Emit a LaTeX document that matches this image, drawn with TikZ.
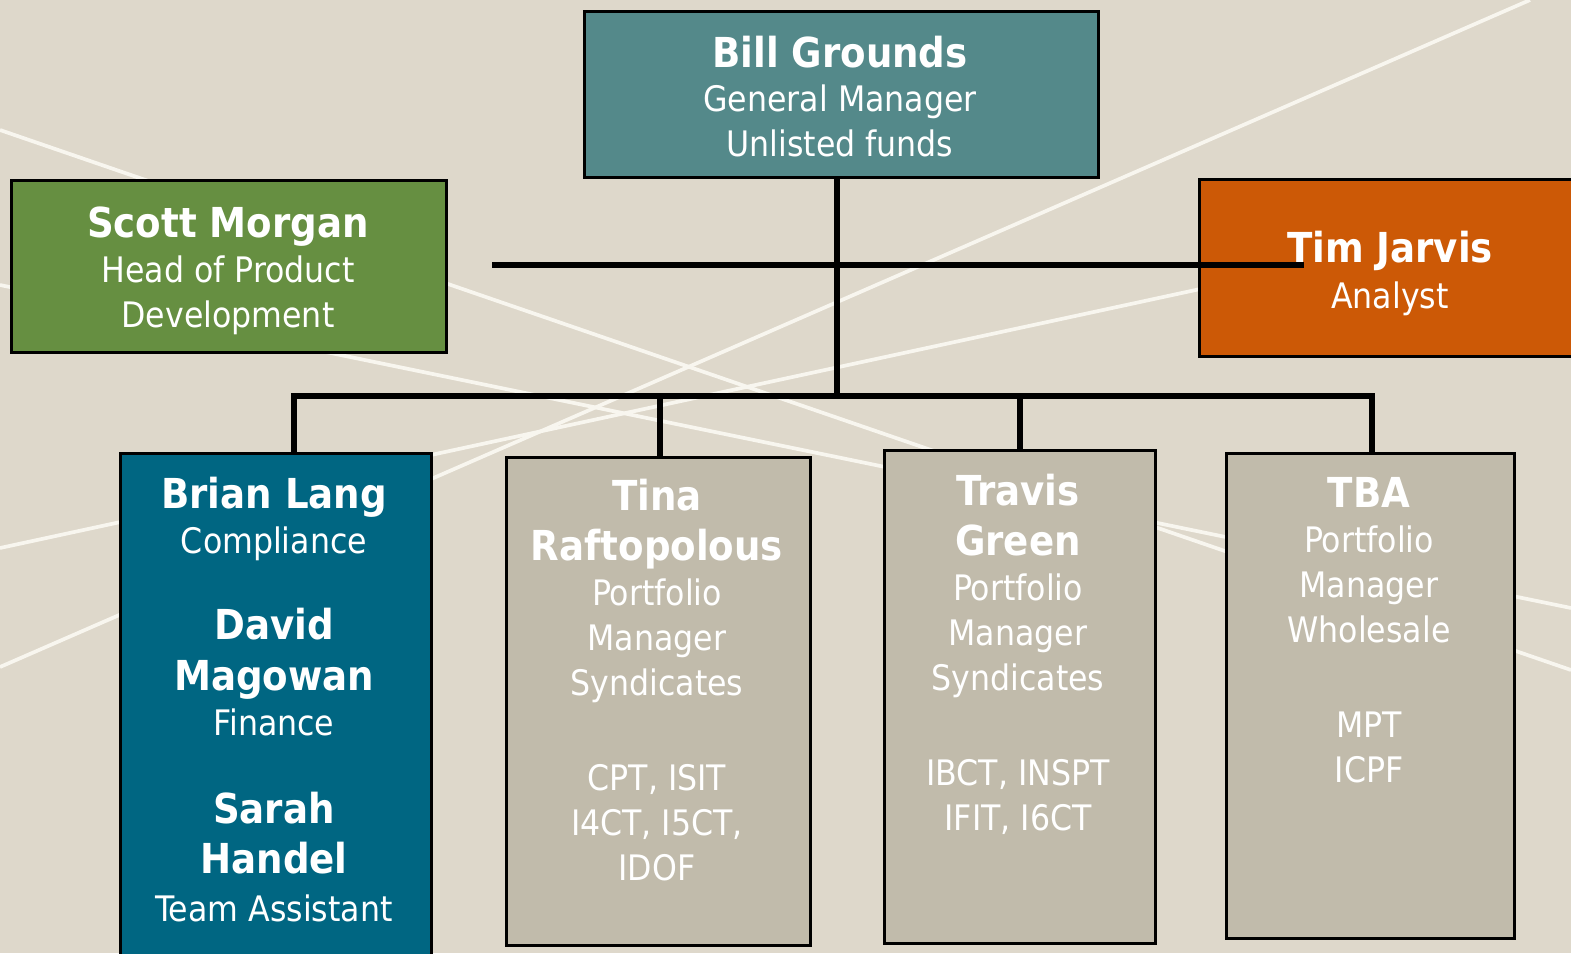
\documentclass[tikz,border=0pt]{standalone}
\usepackage{fontspec}
\setmainfont{DejaVuSansCondensed.ttf}[BoldFont=DejaVuSansCondensed-Bold.ttf]
\usepackage{tikz}
\usepackage{xcolor}
\definecolor{bg}{HTML}{DED8CB}
\definecolor{wline}{HTML}{F8F6EF}
\definecolor{teal}{HTML}{54898A}
\definecolor{moss}{HTML}{668F41}
\definecolor{rust}{HTML}{CC5906}
\definecolor{petrol}{HTML}{006682}
\definecolor{stone}{HTML}{C1BBAB}
\newcommand{\nm}[1]{{\fontsize{23.5}{29}\selectfont\bfseries #1}}
\begin{document}
\begin{tikzpicture}[x=0.02cm,y=-0.02cm]
      \useasboundingbox (0,0) rectangle (1571,953);
      \clip (0,0) rectangle (1571,953);
      \tikzset{B/.style = {draw, line width=1.8pt, inner sep=0pt, anchor=north west}}
      \tikzset{T/.style = {text=white, align=center, inner sep=0pt, anchor=north, font=\fontsize{20}{25.6}\selectfont}}
      \tikzset{E/.style = {draw, line width=3.2pt}}
      \tikzset{W/.style = {draw=wline, line width=2.1pt}}
      \fill[bg] (0,0) rectangle (1571,953);
      \draw[W] (0,130) -- (1571,670);
      \draw[W] (0,285) -- (1571,608);
      \draw[W] (0,667) -- (1530,0);
      \draw[W] (0,548) -- (1571,209);
      \node[B,fill=teal,minimum width=10.28cm,minimum height=3.32cm](bill) at (583,10) {};
      \node[B,fill=moss,minimum width=8.7cm,minimum height=3.44cm](scott) at (10,179) {};
      \node[B,fill=rust,minimum width=8cm,minimum height=3.54cm](tim) at (1198,178) {};
      \node[B,fill=petrol,minimum width=6.22cm,minimum height=10.4cm](brian) at (119,452) {};
      \node[B,fill=stone,minimum width=6.08cm,minimum height=9.76cm](tina) at (505,456) {};
      \node[B,fill=stone,minimum width=5.42cm,minimum height=9.86cm](travis) at (883,449) {};
      \node[B,fill=stone,minimum width=5.76cm,minimum height=9.7cm](tba) at (1225,452) {};
      \coordinate (hub) at (837,396);
      \coordinate (sl) at (492,265);
      \coordinate (sr) at (1304,265);
      \coordinate (b1) at (294,396);
      \coordinate (b2) at (660,396);
      \coordinate (b3) at (1020,396);
      \coordinate (b4) at (1372,396);
      \draw[E] (bill.south -| hub) -- (hub);
      \draw[E] (sl) -- (sr);
      \draw[E] (b1 |- brian.north) -- (b1) -- (b4) -- (b4 |- tba.north);
      \draw[E] (b2) -- (b2 |- tina.north);
      \draw[E] (b3) -- (b3 |- travis.north);
      \node[T](billT) at (840,36) {\nm{Bill Grounds}\\[-0.8pt] General Manager\\ Unlisted funds};
      \node[T](scottT) at (228,207) {\nm{Scott Morgan}\\[-0.3pt] Head of Product\\ Development};
      \node[T](timT) at (1390,231) {\nm{Tim Jarvis}\\[0.5pt] Analyst};
      \node[T](brianT) at (274,477) {\nm{Brian Lang}\\[0pt] Compliance\\[23.5pt] \nm{David}\\[3pt] \nm{Magowan}\\ Finance\\[24.5pt] \nm{Sarah}\\[3pt] \nm{Handel}\\[1.5pt] Team Assistant};
      \node[T](tinaT) at (657,479) {\nm{Tina}\\[3pt] \nm{Raftopolous}\\[0pt] Portfolio\\ Manager\\ Syndicates\\[28.5pt] CPT, ISIT\\ I4CT, I5CT,\\ IDOF};
      \node[T](travisT) at (1018,474) {\nm{Travis}\\[3pt] \nm{Green}\\[0pt] Portfolio\\ Manager\\ Syndicates\\[28.5pt] IBCT, INSPT\\ IFIT, I6CT};
      \node[T](tbaT) at (1369,477) {\nm{TBA}\\[0pt] Portfolio\\ Manager\\ Wholesale\\[28.5pt] MPT\\ ICPF};
\end{tikzpicture}
\end{document}
